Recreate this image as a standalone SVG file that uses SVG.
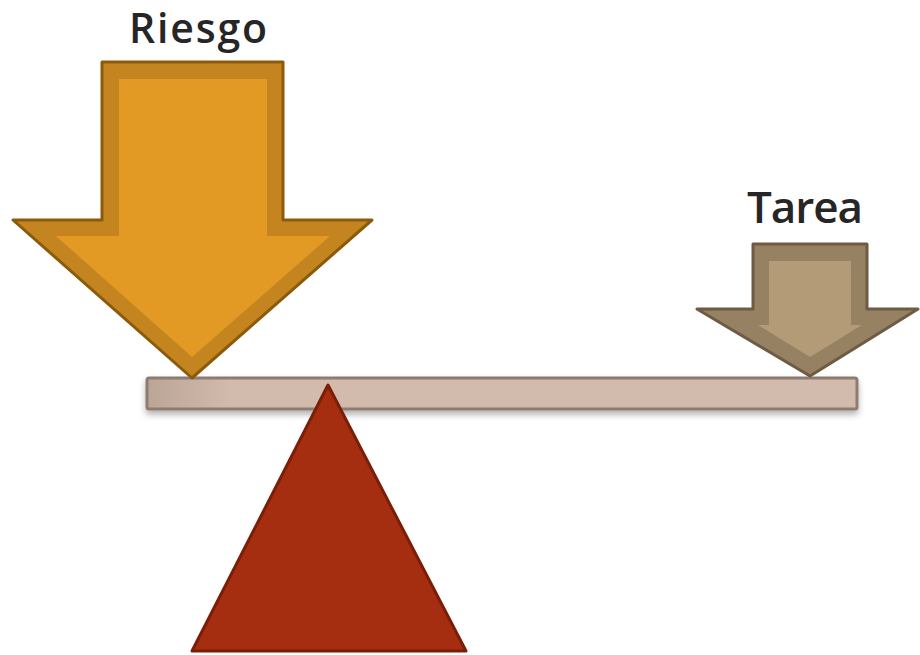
<svg xmlns="http://www.w3.org/2000/svg" width="920" height="655" viewBox="0 0 920 655">
<style>
.lbl{font-family:"Open Sans","Noto Sans","Liberation Sans",sans-serif;font-weight:600;fill:#262626}
</style>
<defs>
<linearGradient id="barg" x1="0" y1="0" x2="1" y2="0">
<stop offset="0" stop-color="#BBA597"/><stop offset="0.12" stop-color="#D2BAAC"/><stop offset="1" stop-color="#D2BAAC"/>
</linearGradient>
<filter id="sh" x="-5%" y="-30%" width="110%" height="180%">
<feDropShadow dx="0" dy="4" stdDeviation="3" flood-color="#000" flood-opacity="0.3"/>
</filter>
</defs>
<g id="bar">
<rect x="147" y="378" width="710" height="31" rx="2" fill="url(#barg)" stroke="#8E7B70" stroke-width="3" filter="url(#sh)"/>
</g>
<g id="fulcrum">
<polygon points="328,385 466,651 192,651" fill="#A52D10" stroke="#7A1E08" stroke-width="3" stroke-linejoin="round"/>
</g>
<g id="riesgo">
<polygon points="102,62 283,62 283,220 372,220 192,378 13,220 102,220" fill="#C4841F" stroke="#8B5A0A" stroke-width="3" stroke-linejoin="round"/>
<polygon points="119,79 267,79 267,236 330,236 192,357 56,236 119,236" fill="#E39A25"/>
<text class="lbl" x="129" y="43" font-size="41" textLength="138" lengthAdjust="spacing">Riesgo</text>
</g>
<g id="tarea">
<polygon points="753,244 867,244 867,309 918,309 810,376 697,309 753,309" fill="#968163" stroke="#6E5B44" stroke-width="3" stroke-linejoin="round"/>
<polygon points="769,261 851,261 851,325 862,325 810,357 758,325 769,325" fill="#B39B77"/>
<text class="lbl" x="747" y="223" font-size="44" textLength="116" lengthAdjust="spacing">Tarea</text>
</g>
</svg>
